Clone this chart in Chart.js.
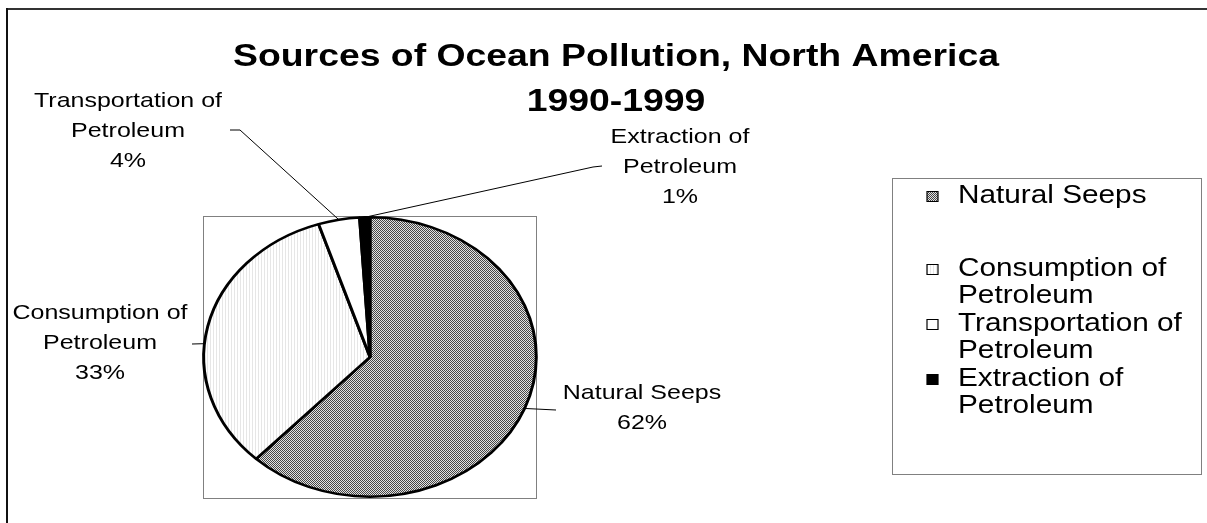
<!DOCTYPE html>
<html><head><meta charset="utf-8">
<script src="https://cdn.jsdelivr.net/npm/chart.js@4/dist/chart.umd.min.js"></script>
<style>html,body{margin:0;padding:0;background:#fff;overflow:hidden}</style>
</head><body>
<canvas id="c" width="1207" height="523"></canvas>
<script>
// ---- data ----
const categories = ['Natural Seeps', 'Consumption of Petroleum', 'Transportation of Petroleum', 'Extraction of Petroleum'];
const values = [62, 33, 4, 1];
const titleLines = ['Sources of Ocean Pollution, North America', '1990-1999'];

// ---- style / layout ----
const SX = 1.19;                 // horizontal stretch of the original picture
const FONT = '"Liberation Sans", Arial, sans-serif';
const labelLayout = [            // real-pixel positions of data labels and leaders
  {x: 642, y: 393, leader: [[556, 410]], frac: 0.5},
  {x: 100, y: 313, leader: [[192, 344]], frac: 0.44},
  {x: 128, y: 101, leader: [[230, 130], [240, 130]], frac: 0.5},
  {x: 680, y: 137, leader: [[602, 166], [593, 167]], frac: 0.5}
];
const legendY = [196, 269, 324, 379];

function wrap(label) { return label.replace(' of ', ' of\n').split('\n'); }

function makePattern(w, h, draw) {
  const c = document.createElement('canvas'); c.width = w; c.height = h;
  const g = c.getContext('2d'); draw(g);
  const p = g.createPattern(c, 'repeat');
  if (p.setTransform) p.setTransform(new DOMMatrix([1 / SX, 0, 0, 1, 0, 0]));
  return p;
}
const seepsFill = makePattern(2, 2, g => {
  g.fillStyle = '#e2e2e2'; g.fillRect(0, 0, 2, 2);
  g.fillStyle = '#464646'; g.fillRect(0, 0, 1, 1); g.fillRect(1, 1, 1, 1);
});
const consFill = makePattern(3, 1, g => {
  g.fillStyle = '#ffffff'; g.fillRect(0, 0, 3, 1);
  g.fillStyle = '#e6e6e6'; g.fillRect(0, 0, 1, 1);
});
const colors = [seepsFill, consFill, '#ffffff', '#000000'];

// pie geometry (real px): centre x 370, y 357, rx 168, ry 141
const CX = 370, CY = 357, RY = 141;
const padLeft = CX / SX - RY, padRight = 1207 - (CX / SX + RY);

const refPlugin = {
  id: 'ref',
  beforeDraw(chart) {
    const ctx = chart.ctx;
    ctx.save();
    ctx.fillStyle = '#fff'; ctx.fillRect(0, 0, chart.width, chart.height);
    ctx.strokeStyle = '#808080'; ctx.lineWidth = 1;
    ctx.strokeRect(203.5, 216.5, 333, 282);
    ctx.restore();
    ctx.save();
    ctx.scale(SX, 1);
  },
  afterDraw(chart) {
    const ctx = chart.ctx;
    const ds = chart.data.datasets[0];
    const total = ds.data.reduce((a, b) => a + b, 0);
    // texts (stretched context)
    ctx.fillStyle = '#000';
    ctx.textAlign = 'center'; ctx.textBaseline = 'middle';
    ctx.font = 'bold 31.4px ' + FONT;
    titleLines.forEach((t, i) => ctx.fillText(t, 616 / SX, 57 + i * 45));
    ctx.font = '21px ' + FONT;
    chart.data.labels.forEach((lab, i) => {
      const L = labelLayout[i];
      const lines = wrap(lab).concat([Math.round(ds.data[i] / total * 100) + '%']);
      lines.forEach((t, j) => ctx.fillText(t, L.x / SX, L.y + j * 30));
    });
    // legend
    ctx.textAlign = 'left';
    ctx.font = '25px ' + FONT;
    chart.data.labels.forEach((lab, i) => {
      const y = legendY[i];
      ctx.fillStyle = ds.backgroundColor[i];
      ctx.fillRect(927 / SX, y - 4.5, 11 / SX, 10);
      ctx.strokeStyle = '#000'; ctx.lineWidth = 1;
      ctx.strokeRect(927 / SX, y - 4.5, 11 / SX, 10);
      ctx.fillStyle = '#000';
      wrap(lab).forEach((t, j) => ctx.fillText(t, 958 / SX, y + j * 27.5));
    });
    ctx.restore();
    // leader lines (real coords)
    const meta = chart.getDatasetMeta(0);
    ctx.save();
    ctx.strokeStyle = '#000'; ctx.lineWidth = 1;
    meta.data.forEach((arc, i) => {
      const L = labelLayout[i];
      const a = arc.startAngle + (arc.endAngle - arc.startAngle) * L.frac;
      const ex = (arc.x + arc.outerRadius * Math.cos(a)) * SX;
      const ey = arc.y + arc.outerRadius * Math.sin(a);
      ctx.beginPath();
      L.leader.forEach((p, k) => k ? ctx.lineTo(p[0], p[1]) : ctx.moveTo(p[0], p[1]));
      ctx.lineTo(ex, ey);
      ctx.stroke();
    });
    // legend box
    ctx.strokeStyle = '#808080';
    ctx.strokeRect(892.5, 178.5, 309, 296);
    // outer chart border
    ctx.fillStyle = '#333'; ctx.fillRect(6, 8, 1201, 2);
    ctx.fillStyle = '#111'; ctx.fillRect(6, 8, 2, 515);
    ctx.restore();
  }
};

new Chart(document.getElementById('c'), {
  type: 'pie',
  data: {
    labels: categories,
    datasets: [{
      data: values,
      backgroundColor: colors,
      borderColor: '#000',
      borderWidth: 2.5,
      hoverOffset: 0,
      clip: false
    }]
  },
  options: {
    responsive: false,
    devicePixelRatio: 1,
    animation: false,
    layout: {padding: {left: padLeft, right: padRight, top: CY - RY, bottom: 523 - (CY + RY)}},
    plugins: {legend: {display: false}, title: {display: false}, tooltip: {enabled: false}}
  },
  plugins: [refPlugin]
});
</script>
</body></html>
